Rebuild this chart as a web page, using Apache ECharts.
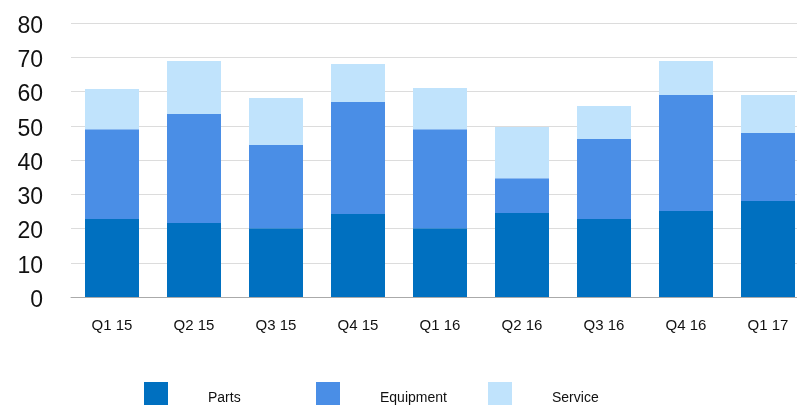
<!DOCTYPE html>
<html>
	<head>
		<meta charset="utf-8">
		<title></title>
		<script src="https://cdn.jsdelivr.net/npm/echarts@6/dist/echarts.min.js"></script>
	</head>
	<body style="margin: 0; overflow: hidden;">
		<div id="main" style="width: 809px; height: 405px;"></div>
		<script type="text/javascript">
			var quarters = ['Q1 15', 'Q2 15', 'Q3 15', 'Q4 15', 'Q1 16', 'Q2 16', 'Q3 16', 'Q4 16', 'Q1 17'];
			var parts = [22.8, 21.6, 20.1, 24.2, 20.1, 24.5, 22.8, 25.1, 28.0];
			var equipment = [26.2, 31.8, 24.3, 32.7, 28.9, 10.2, 23.3, 33.9, 19.9];
			var service = [11.7, 15.5, 13.7, 11.1, 12.0, 14.9, 9.7, 9.9, 11.1];
			var yTicks = [0, 10, 20, 30, 40, 50, 60, 70, 80];

			var myChart = echarts.init(document.getElementById("main"));

			// square sits in the top part of a taller box so the text lines up lower
			var legendIcon = 'path://M0,0H24V24H0Z M0,32L0.01,32L0,32Z';

			function legendAt(name, x) {
				return {
					data: [name],
					left: x,
					top: 382,
					itemWidth: 24,
					itemHeight: 32,
					icon: legendIcon,
					padding: 0,
					selectedMode: false,
					textStyle: {
						fontFamily: 'Liberation Sans',
						fontSize: 14,
						color: '#111',
						padding: [0, 0, 0, 35]
					}
				};
			}

			option = {
			  animation: false,
			  color: ['#0070C0', '#4A8EE6', '#C0E3FC'],
			  grid: {
			    left: 71,
			    right: 0,
			    top: 23,
			    bottom: 108
			  },
			  legend: [
			    legendAt('Parts', 144),
			    legendAt('Equipment', 316),
			    legendAt('Service', 488)
			  ],
			  xAxis: {
			    type: 'category',
			    data: quarters,
			    axisTick: { show: false },
			    axisLine: { lineStyle: { color: '#aaaaaa' } },
			    axisLabel: {
			      margin: 21,
			      fontFamily: 'Liberation Sans',
			      fontSize: 15,
			      color: '#111'
			    }
			  },
			  yAxis: {
			    type: 'value',
			    min: yTicks[0],
			    max: yTicks[yTicks.length - 1],
			    interval: 10,
			    axisLabel: {
			      margin: 28,
			      fontFamily: 'Liberation Sans',
			      fontSize: 23,
			      color: '#111',
			      verticalAlign: 'top',
			      padding: [-8, 0, 0, 0]
			    },
			    splitLine: { lineStyle: { color: '#dcdcdc', width: 1 } }
			  },
			  series: [
			    { name: 'Parts', type: 'bar', stack: 'total', barWidth: 54, data: parts },
			    { name: 'Equipment', type: 'bar', stack: 'total', barWidth: 54, data: equipment },
			    { name: 'Service', type: 'bar', stack: 'total', barWidth: 54, data: service }
			  ]
			};
			myChart.setOption(option);
		</script>
	</body>
</html>
